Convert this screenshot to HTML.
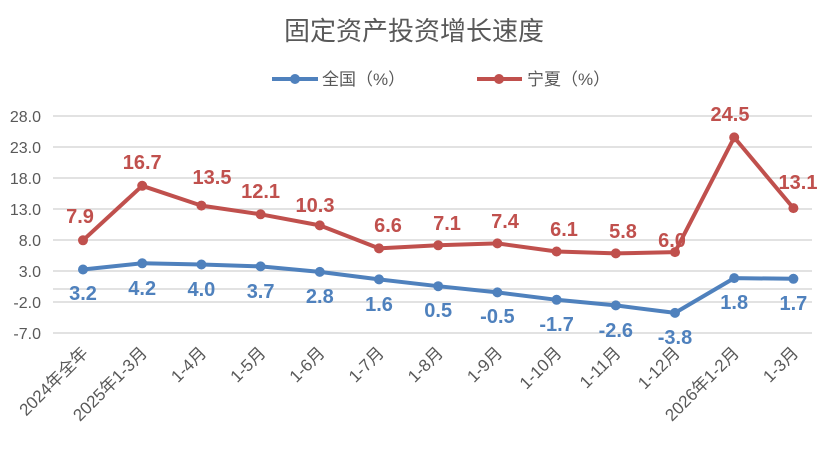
<!DOCTYPE html>
<html><head><meta charset="utf-8"><style>body{margin:0;background:#fff}</style></head><body>
<svg width="827" height="444" xmlns="http://www.w3.org/2000/svg" font-family="Liberation Sans, Noto Sans CJK SC, sans-serif">
<text x="414" y="40" text-anchor="middle" font-size="26" fill="#595959">固定资产投资增长速度</text>
<line x1="272" y1="79" x2="318" y2="79" stroke="#4F81BD" stroke-width="4"/><circle cx="295" cy="79" r="5" fill="#4F81BD"/>
<text x="322" y="85" font-size="17" fill="#595959">全国（%）</text>
<line x1="477" y1="79" x2="522" y2="79" stroke="#C0504D" stroke-width="4"/><circle cx="499" cy="79" r="5" fill="#C0504D"/>
<text x="527" y="85" font-size="17" fill="#595959">宁夏（%）</text>
<g stroke="#D9D9D9" stroke-width="1.5">
<line x1="53" x2="812" y1="116" y2="116"/><line x1="53" x2="812" y1="147" y2="147"/><line x1="53" x2="812" y1="178" y2="178"/><line x1="53" x2="812" y1="209" y2="209"/><line x1="53" x2="812" y1="240" y2="240"/><line x1="53" x2="812" y1="271" y2="271"/><line x1="53" x2="812" y1="289" y2="289"/><line x1="53" x2="812" y1="302" y2="302"/><line x1="53" x2="812" y1="333" y2="333"/>
</g>
<g font-size="16" fill="#595959" text-anchor="end">
<text x="41" y="122">28.0</text><text x="41" y="153">23.0</text><text x="41" y="184">18.0</text><text x="41" y="215">13.0</text><text x="41" y="246">8.0</text><text x="41" y="277">3.0</text><text x="41" y="308">-2.0</text><text x="41" y="339">-7.0</text>
</g>
<polyline points="83,269.5 142.2,263.3 201.4,264.5 260.6,266.4 319.8,271.9 379,279.4 438.2,286.2 497.4,292.4 556.6,299.8 615.8,305.4 675,312.9 734.2,278.1 793.4,278.8" fill="none" stroke="#4F81BD" stroke-width="4" stroke-linejoin="round"/>
<g fill="#4F81BD">
<circle cx="83" cy="269.5" r="5"/><circle cx="142.2" cy="263.3" r="5"/><circle cx="201.4" cy="264.5" r="5"/><circle cx="260.6" cy="266.4" r="5"/><circle cx="319.8" cy="271.9" r="5"/><circle cx="379" cy="279.4" r="5"/><circle cx="438.2" cy="286.2" r="5"/><circle cx="497.4" cy="292.4" r="5"/><circle cx="556.6" cy="299.8" r="5"/><circle cx="615.8" cy="305.4" r="5"/><circle cx="675" cy="312.9" r="5"/><circle cx="734.2" cy="278.1" r="5"/><circle cx="793.4" cy="278.8" r="5"/>
</g>
<g fill="#4F81BD" font-size="20" font-weight="bold" text-anchor="middle">
<text x="83" y="300">3.2</text><text x="142.2" y="295">4.2</text><text x="201.4" y="296">4.0</text><text x="260.6" y="298">3.7</text><text x="319.8" y="303">2.8</text><text x="379" y="311">1.6</text><text x="438.2" y="317">0.5</text><text x="497.4" y="323">-0.5</text><text x="556.6" y="331">-1.7</text><text x="615.8" y="337">-2.6</text><text x="675" y="344">-3.8</text><text x="734.2" y="309">1.8</text><text x="793.4" y="310">1.7</text>
</g>
<polyline points="83,240.3 142.2,185.8 201.4,205.6 260.6,214.3 319.8,225.4 379,248.4 438.2,245.3 497.4,243.4 556.6,251.5 615.8,253.4 675,252.1 734.2,137.4 793.4,208.1" fill="none" stroke="#C0504D" stroke-width="4" stroke-linejoin="round"/>
<g fill="#C0504D">
<circle cx="83" cy="240.3" r="5"/><circle cx="142.2" cy="185.8" r="5"/><circle cx="201.4" cy="205.6" r="5"/><circle cx="260.6" cy="214.3" r="5"/><circle cx="319.8" cy="225.4" r="5"/><circle cx="379" cy="248.4" r="5"/><circle cx="438.2" cy="245.3" r="5"/><circle cx="497.4" cy="243.4" r="5"/><circle cx="556.6" cy="251.5" r="5"/><circle cx="615.8" cy="253.4" r="5"/><circle cx="675" cy="252.1" r="5"/><circle cx="734.2" cy="137.4" r="5"/><circle cx="793.4" cy="208.1" r="5"/>
</g>
<g fill="#C0504D" font-size="20" font-weight="bold" text-anchor="middle">
<text x="80" y="223">7.9</text><text x="142.2" y="169">16.7</text><text x="212" y="184">13.5</text><text x="260.6" y="198">12.1</text><text x="315" y="212">10.3</text><text x="388" y="232">6.6</text><text x="447" y="230">7.1</text><text x="505" y="228">7.4</text><text x="564" y="236">6.1</text><text x="623" y="238">5.8</text><text x="672" y="247">6.0</text><text x="730" y="121">24.5</text><text x="798" y="189">13.1</text>
</g>
<g font-size="17" fill="#595959" text-anchor="end">
<text transform="translate(89,354) rotate(-45)">2024年全年</text>
<text transform="translate(148.2,354) rotate(-45)">2025年1-3月</text>
<text transform="translate(207.4,354) rotate(-45)">1-4月</text>
<text transform="translate(266.6,354) rotate(-45)">1-5月</text>
<text transform="translate(325.8,354) rotate(-45)">1-6月</text>
<text transform="translate(385,354) rotate(-45)">1-7月</text>
<text transform="translate(444.2,354) rotate(-45)">1-8月</text>
<text transform="translate(503.4,354) rotate(-45)">1-9月</text>
<text transform="translate(562.6,354) rotate(-45)">1-10月</text>
<text transform="translate(621.8,354) rotate(-45)">1-11月</text>
<text transform="translate(681,354) rotate(-45)">1-12月</text>
<text transform="translate(740.2,354) rotate(-45)">2026年1-2月</text>
<text transform="translate(799.4,354) rotate(-45)">1-3月</text>
</g>
</svg>
</body></html>
